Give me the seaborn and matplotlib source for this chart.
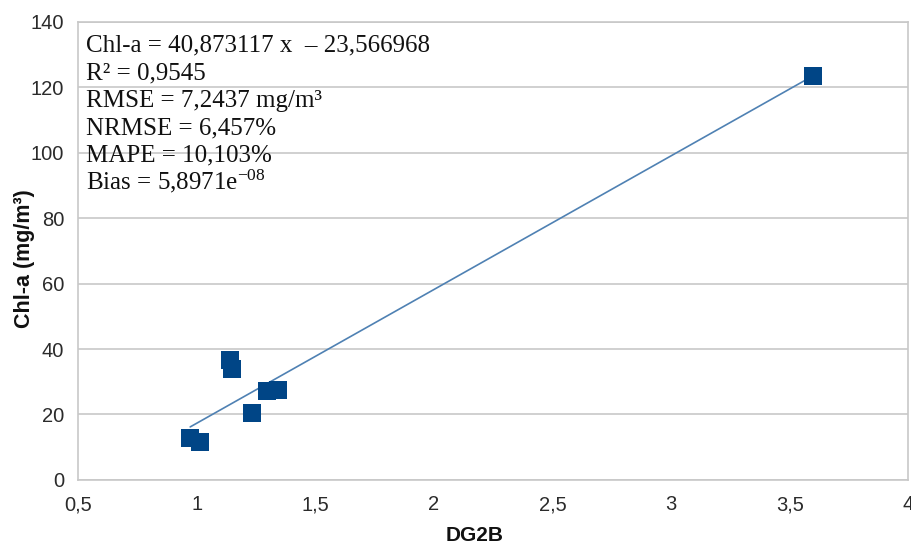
import matplotlib
matplotlib.use("Agg")
import matplotlib.pyplot as plt
import matplotlib.ticker as mticker
import seaborn as sns
import numpy as np
import pandas as pd

# data
dg2b = [0.973, 1.016, 1.142, 1.150, 1.235, 1.295, 1.345, 3.600]
chla = [12.8, 11.6, 36.7, 34.0, 20.5, 27.2, 27.5, 123.4]
slope = 40.873117
intercept = -23.566968
stats_lines = [
    "Chl-a = 40,873117 x  \u2013 23,566968",
    "R\u00b2 = 0,9545",
    "RMSE = 7,2437 mg/m\u00b3",
    "NRMSE = 6,457%",
    "MAPE = 10,103%",
    "Bias = 5,8971e$^{-08}$",
]
x_ticks = [0.5, 1, 1.5, 2, 2.5, 3, 3.5, 4]
y_ticks = [0, 20, 40, 60, 80, 100, 120, 140]

df = pd.DataFrame({"DG2B": dg2b, "Chl": chla})

sns.set_style("white")
plt.rcParams["font.family"] = ["Liberation Sans", "DejaVu Sans"]
plt.rcParams["mathtext.fontset"] = "custom"
plt.rcParams["mathtext.rm"] = "Liberation Serif"
plt.rcParams["mathtext.it"] = "Liberation Serif"

fig = plt.figure(figsize=(9.12, 5.46), dpi=100)
ax = fig.add_axes([0.0855, 0.121, 0.9105, 0.839])

# trend line
xl = np.array([min(dg2b), max(dg2b)])
ax.plot(xl, slope * xl + intercept, color="#4f81b3", lw=1.2, zorder=2)

sns.scatterplot(data=df, x="DG2B", y="Chl", marker="s", s=150,
                color="#004586", edgecolor="#004586", linewidth=0, ax=ax, zorder=3)

ax.set_xlim(0.5, 4)
ax.set_ylim(0, 140)
ax.set_xticks(x_ticks)
ax.set_yticks(y_ticks)
fmt = mticker.FuncFormatter(lambda v, p: ("%g" % v).replace(".", ","))
ax.xaxis.set_major_formatter(fmt)
ax.yaxis.set_major_formatter(fmt)
ax.yaxis.grid(True, color="#c8c8c8", lw=1.2)
ax.xaxis.grid(False)
for s in ax.spines.values():
    s.set_color("#c8c8c8")
    s.set_linewidth(1.2)
ax.tick_params(axis="both", direction="out", length=7, width=1.2, color="#c8c8c8",
               labelsize=14.5, labelcolor="#2b2b2b")
ax.tick_params(axis="x", pad=4)
ax.tick_params(axis="y", pad=3)

ax.set_xlabel("DG2B", fontsize=15, fontweight="bold", color="#111111")
ax.set_ylabel("Chl-a (mg/m\u00b3)", fontsize=15.5, fontweight="bold", color="#111111")
ax.xaxis.label.set_va("center")
ax.yaxis.label.set_va("center")
ax.xaxis.set_label_coords(0.478, -0.122)
ax.yaxis.set_label_coords(-0.065, 0.4825)

# stats box, one line at a time so the superscript line keeps the spacing
for i, line in enumerate(stats_lines):
    ax.annotate(line, xy=(0.0095, 0.9345), xycoords="axes fraction",
                xytext=(0, -19.8 * i), textcoords="offset points",
                va="baseline", ha="left", fontsize=18,
                family=["Liberation Serif", "DejaVu Serif"], color="#111111")

fig.savefig("out.png", dpi=100)
